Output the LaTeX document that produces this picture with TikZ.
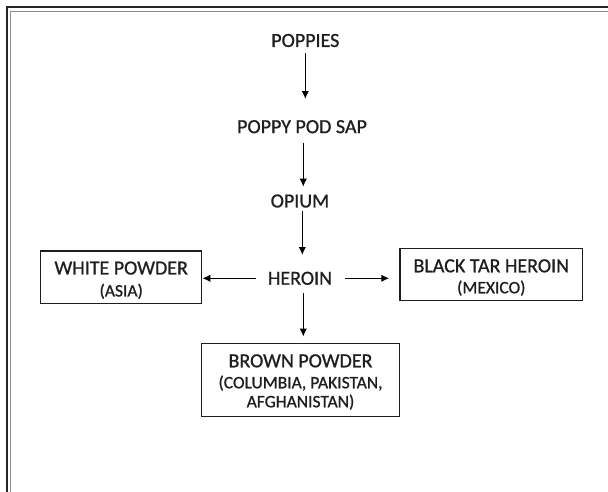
\documentclass[tikz,border=0pt]{standalone}
\usepackage{fontspec}
\setmainfont{Carlito}[RawFeature={embolden=0.9}]
\usetikzlibrary{arrows.meta}
\newcommand{\mainsz}{\fontsize{20}{21}\selectfont}
\newcommand{\subsz}{\fontsize{17.5}{21}\selectfont}
\definecolor{ink}{HTML}{1E1E1E}
\tikzset{
  lbl/.style={inner sep=0pt, text=ink, font=\mainsz},
  boxed/.style={draw=ink, line width=1.4pt, inner sep=0pt, align=center, text=ink, font=\mainsz},
  arr/.style={draw=black, line width=1.3pt, -{Latex[length=8pt,width=7.5pt]}}
}
\begin{document}
\begin{tikzpicture}[x=1pt,y=-1pt]
\useasboundingbox (0,0) rectangle (608,491);
% frame
\draw[line width=2.6pt, color=black!85] (7,495) -- (7,7) -- (612,7);
\draw[line width=1pt, color=black!45] (10,495) -- (10,11) -- (612,11);
% nodes
\node[lbl] (pop) at (305.3,40.5) {POPPIES};
\node[lbl] (sap) at (302,126.7) {POPPY POD SAP};
\node[lbl] (opium) at (300,201) {OPIUM};
\node[lbl] (heroin) at (300,278.3) {HEROIN};
\node[boxed, minimum width=161pt, minimum height=52.3pt] (white) at (121.2,277.2)
  {\rule{0pt}{19pt}WHITE POWDER\\[1pt]{\subsz (ASIA)}};
\node[boxed, minimum width=182.7pt, minimum height=52.4pt] (black) at (491.3,274.5)
  {\rule{0pt}{19pt}BLACK TAR HEROIN\\{\subsz (MEXICO)}};
\node[boxed, minimum width=197.6pt, minimum height=73.4pt] (brown) at (300.5,380)
  {\rule{0pt}{17pt}BROWN POWDER\\{\subsz (COLUMBIA, PAKISTAN,}\\[-2pt]{\subsz AFGHANISTAN)}};
% connectors
\draw[arr, shorten <=12.8pt, shorten >=27.7pt] (pop.center) -- (pop.center |- sap.center);
\draw[arr, shorten <=16.3pt, shorten >=14.3pt] ([xshift=1.3pt]sap.center) -- ([xshift=1.3pt]sap.center |- opium.center);
\draw[arr, shorten <=9.7pt, shorten >=23.3pt] ([xshift=2.3pt]opium.center) -- ([xshift=2.3pt]heroin.center);
\draw[arr, shorten <=44pt] (heroin.center) -- (heroin.center -| white.east);
\draw[arr, shorten <=45pt, shorten >=10pt] (heroin.center) -- (heroin.center -| black.west);
\draw[arr, shorten <=15pt, shorten >=6pt] ([xshift=3.3pt]heroin.center) -- ([xshift=3.3pt]heroin.center |- brown.north);
\end{tikzpicture}
\end{document}
